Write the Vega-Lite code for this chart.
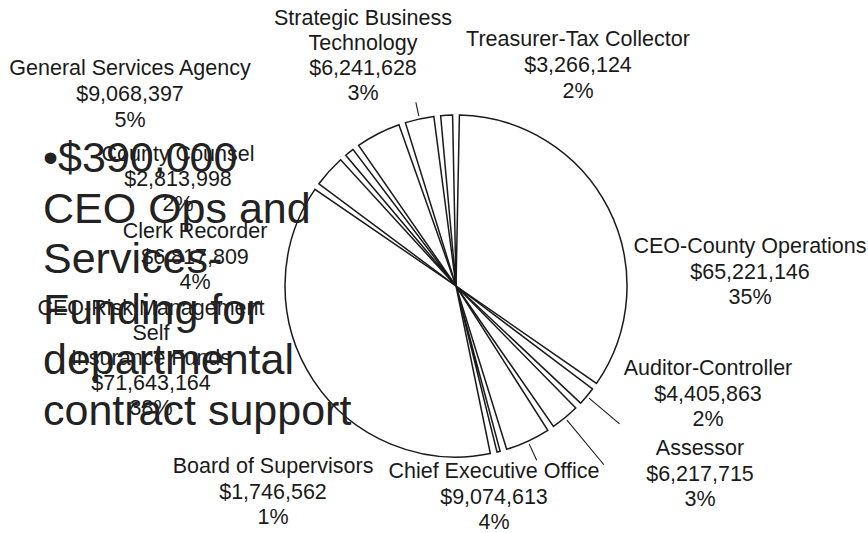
{
  "$schema": "https://vega.github.io/schema/vega-lite/v6.json",
  "width": 824,
  "height": 470,
  "autosize": {"type": "none"},
  "padding": {"left": 44, "top": 51, "right": 0, "bottom": 12},
  "background": "white",
  "config": {
    "view": {"stroke": null},
    "text": {"font": "Liberation Sans", "color": "#1a1a1a", "fontSize": 21.5}
  },
  "data": {
    "values": [
      {"name": "CEO-County Operations", "value": 65221146, "pct": 35, "order": 1},
      {"name": "Auditor-Controller", "value": 4405863, "pct": 2, "order": 2},
      {"name": "Assessor", "value": 6217715, "pct": 3, "order": 3},
      {"name": "Chief Executive Office", "value": 9074613, "pct": 4, "order": 4},
      {"name": "Board of Supervisors", "value": 1746562, "pct": 1, "order": 5},
      {"name": "CEO-Risk Management\nSelf\nInsurance Funds", "value": 71643164, "pct": 38, "order": 6},
      {"name": "Clerk Recorder", "value": 6817809, "pct": 4, "order": 7},
      {"name": "County Counsel", "value": 2813998, "pct": 2, "order": 8},
      {"name": "General Services Agency", "value": 9068397, "pct": 5, "order": 9},
      {"name": "Strategic Business\nTechnology", "value": 6241628, "pct": 3, "order": 10},
      {"name": "Treasurer-Tax Collector", "value": 3266124, "pct": 2, "order": 11}
    ]
  },
  "transform": [
    {"window": [{"op": "sum", "field": "value", "as": "v1"}], "sort": [{"field": "order", "order": "ascending"}], "frame": [null, 0]},
    {"calculate": "datum.v1 - datum.value / 2", "as": "mid"},
    {"calculate": "datum.name + '\\n' + format(datum.value, '$,') + '\\n' + datum.pct + '%'", "as": "label"}
  ],
  "layer": [
    {
      "mark": {"type": "arc", "radius": 171, "padAngle": 0.04, "fill": "white", "stroke": "#1a1a1a", "strokeWidth": 1.5},
      "encoding": {
        "theta": {"field": "value", "type": "quantitative", "stack": true},
        "order": {"field": "order", "type": "quantitative"}
      }
    },
    {
      "transform": [{"filter": "datum.order == 10"}],
      "mark": {"type": "arc", "radius": 188, "radius2": 174, "fill": null, "stroke": "#1a1a1a", "strokeWidth": 1.1},
      "encoding": {"theta": {"field": "mid", "type": "quantitative", "stack": null}, "theta2": {"field": "mid"}}
    },
    {
      "transform": [{"filter": "datum.order == 4"}],
      "mark": {"type": "arc", "radius": 192, "radius2": 174, "fill": null, "stroke": "#1a1a1a", "strokeWidth": 1.1},
      "encoding": {"theta": {"field": "mid", "type": "quantitative", "stack": null}, "theta2": {"field": "mid"}}
    },
    {
      "transform": [{"filter": "datum.order == 2"}],
      "mark": {"type": "arc", "radius": 214, "radius2": 174, "fill": null, "stroke": "#1a1a1a", "strokeWidth": 1.1},
      "encoding": {"theta": {"field": "mid", "type": "quantitative", "stack": null}, "theta2": {"field": "mid"}}
    },
    {
      "transform": [{"filter": "datum.order == 3"}],
      "mark": {"type": "arc", "radius": 232, "radius2": 174, "fill": null, "stroke": "#1a1a1a", "strokeWidth": 1.1},
      "encoding": {"theta": {"field": "mid", "type": "quantitative", "stack": null}, "theta2": {"field": "mid"}}
    },
    {
      "transform": [{"filter": "datum.order == 1"}],
      "mark": {"type": "text", "align": "center", "baseline": "top", "lineBreak": "\n", "lineHeight": 25.5, "dx": 294, "dy": -50},
      "encoding": {"text": {"field": "label", "type": "nominal"}}
    },
    {
      "transform": [{"filter": "datum.order == 2"}],
      "mark": {"type": "text", "align": "center", "baseline": "top", "lineBreak": "\n", "lineHeight": 25.5, "dx": 252, "dy": 72},
      "encoding": {"text": {"field": "label", "type": "nominal"}}
    },
    {
      "transform": [{"filter": "datum.order == 3"}],
      "mark": {"type": "text", "align": "center", "baseline": "top", "lineBreak": "\n", "lineHeight": 25.5, "dx": 244, "dy": 152},
      "encoding": {"text": {"field": "label", "type": "nominal"}}
    },
    {
      "transform": [{"filter": "datum.order == 4"}],
      "mark": {"type": "text", "align": "center", "baseline": "top", "lineBreak": "\n", "lineHeight": 25.5, "dx": 38, "dy": 175},
      "encoding": {"text": {"field": "label", "type": "nominal"}}
    },
    {
      "transform": [{"filter": "datum.order == 5"}],
      "mark": {"type": "text", "align": "center", "baseline": "top", "lineBreak": "\n", "lineHeight": 25.5, "dx": -183, "dy": 170},
      "encoding": {"text": {"field": "label", "type": "nominal"}}
    },
    {
      "transform": [{"filter": "datum.order == 6"}],
      "mark": {"type": "text", "align": "center", "baseline": "top", "lineBreak": "\n", "lineHeight": 25, "dx": -305, "dy": 12},
      "encoding": {"text": {"field": "label", "type": "nominal"}}
    },
    {
      "transform": [{"filter": "datum.order == 7"}],
      "mark": {"type": "text", "align": "center", "baseline": "top", "lineBreak": "\n", "lineHeight": 25.5, "dx": -261, "dy": -65},
      "encoding": {"text": {"field": "label", "type": "nominal"}}
    },
    {
      "transform": [{"filter": "datum.order == 8"}],
      "mark": {"type": "text", "align": "center", "baseline": "top", "lineBreak": "\n", "lineHeight": 25, "dx": -278, "dy": -142},
      "encoding": {"text": {"field": "label", "type": "nominal"}}
    },
    {
      "transform": [{"filter": "datum.order == 9"}],
      "mark": {"type": "text", "align": "center", "baseline": "top", "lineBreak": "\n", "lineHeight": 26, "dx": -326, "dy": -228},
      "encoding": {"text": {"field": "label", "type": "nominal"}}
    },
    {
      "transform": [{"filter": "datum.order == 10"}],
      "mark": {"type": "text", "align": "center", "baseline": "top", "lineBreak": "\n", "lineHeight": 25, "dx": -93, "dy": -278},
      "encoding": {"text": {"field": "label", "type": "nominal"}}
    },
    {
      "transform": [{"filter": "datum.order == 11"}],
      "mark": {"type": "text", "align": "center", "baseline": "top", "lineBreak": "\n", "lineHeight": 26, "dx": 122, "dy": -257},
      "encoding": {"text": {"field": "label", "type": "nominal"}}
    },
    {
      "data": {"values": [{"note": "•$390,000\nCEO Ops and\nServices-\nFunding for\ndepartmental\ncontract support"}]},
      "mark": {"type": "text", "align": "left", "baseline": "top", "lineBreak": "\n", "fontSize": 43, "lineHeight": 50.5, "dx": -413, "dy": -148, "color": "#222222"},
      "encoding": {"text": {"field": "note", "type": "nominal"}}
    }
  ]
}
